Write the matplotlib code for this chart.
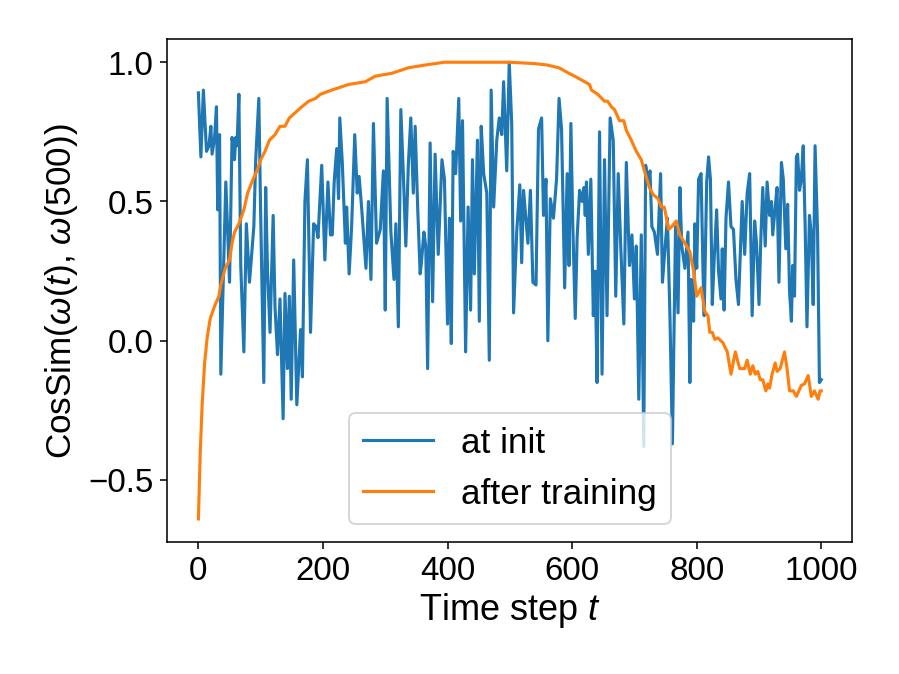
import matplotlib
matplotlib.use("Agg")
import matplotlib.pyplot as plt

plt.rcParams['font.family'] = ['Liberation Sans', 'DejaVu Sans']
plt.rcParams['mathtext.fontset'] = 'custom'
plt.rcParams['mathtext.rm'] = 'Liberation Sans'
plt.rcParams['mathtext.it'] = 'Liberation Sans:italic'
plt.rcParams['font.size'] = 17

# --- "at init" curve ---
init_t = [0, 4, 8, 13, 17, 20, 22, 26, 29, 31, 34, 36, 44, 50, 54, 58, 60, 62, 65, 68,
          73, 77, 82, 89, 92, 97, 100, 105, 108, 111, 115, 120, 123, 127, 131, 136, 139, 143, 146, 149,
          153, 158, 164, 167, 171, 175, 180, 185, 189, 192, 198, 203, 208, 212, 215, 218, 222, 225, 227, 231,
          236, 238, 242, 246, 251, 255, 258, 262, 269, 273, 277, 281, 286, 292, 297, 300, 303, 309, 314, 317,
          321, 325, 329, 333, 337, 341, 345, 348, 352, 356, 358, 362, 365, 368, 372, 376, 380, 385, 391, 395,
          400, 403, 406, 409, 413, 418, 421, 424, 429, 433, 437, 440, 443, 448, 451, 454, 458, 463, 467, 470,
          474, 479, 483, 487, 490, 495, 499, 503, 506, 511, 516, 519, 522, 526, 529, 533, 537, 542, 546, 551,
          554, 558, 561, 565, 570, 575, 579, 583, 588, 592, 595, 598, 601, 605, 608, 612, 616, 619, 621, 623,
          626, 630, 634, 637, 640, 644, 648, 652, 656, 661, 666, 670, 674, 678, 683, 687, 692, 696, 700, 703,
          707, 711, 715, 718, 722, 725, 728, 732, 737, 742, 745, 749, 753, 757, 761, 766, 770, 773, 776, 781,
          786, 789, 791, 795, 797, 800, 803, 807, 810, 812, 816, 819, 822, 825, 828, 832, 835, 839, 841, 844,
          847, 851, 855, 859, 863, 867, 873, 877, 881, 885, 889, 893, 896, 900, 903, 906, 910, 913, 917, 920,
          922, 926, 929, 932, 936, 939, 943, 946, 949, 952, 954, 957, 960, 962, 965, 968, 971, 974, 977, 981,
          984, 987, 990, 994, 997, 1000]
init_cos = [0.89, 0.66, 0.90, 0.68, 0.70, 0.77, 0.67, 0.73, 0.84, 0.47, 0.74, -0.12, 0.57, 0.21, 0.73, 0.65, 0.73, 0.70, 0.885, 0.27,
            -0.04, 0.42, 0.21, 0.41, 0.65, 0.87, 0.45, -0.15, 0.55, 0.25, 0.03, 0.45, 0.12, -0.05, 0.15, -0.28, 0.17, -0.10, 0.16, -0.21,
            0.29, -0.23, 0.04, -0.13, 0.50, 0.65, 0.03, 0.42, 0.41, 0.37, 0.63, 0.29, 0.57, 0.38, 0.38, 0.57, 0.69, 0.51, 0.80, 0.64,
            0.35, 0.48, 0.24, 0.41, 0.74, 0.53, 0.59, 0.48, 0.26, 0.50, 0.22, 0.78, 0.35, 0.40, 0.61, 0.11, 0.87, 0.39, 0.22, 0.42,
            0.05, 0.83, 0.60, 0.34, 0.63, 0.80, 0.53, 0.77, 0.48, 0.24, 0.28, 0.39, 0.34, -0.10, 0.71, 0.14, 0.67, 0.31, 0.65, 0.58,
            0.06, 0.44, -0.01, 0.68, 0.60, 0.87, 0.43, 0.79, -0.04, 0.48, 0.11, 0.65, 0.24, 0.72, 0.07, 0.77, 0.60, 0.53, -0.07, 0.90,
            0.48, 0.72, 0.80, 0.74, 0.93, 0.61, 1.00, 0.78, 0.10, 0.39, 0.56, 0.28, 0.54, 0.43, 0.35, 0.54, 0.21, 0.20, 0.76, 0.80,
            0.45, 0.58, 0.00, 0.51, 0.44, 0.58, 0.87, 0.76, 0.19, 0.60, 0.27, 0.78, 0.42, 0.08, 0.37, 0.54, 0.50, 0.55, 0.45, 0.57,
            0.31, 0.58, 0.09, 0.25, -0.15, 0.75, -0.12, 0.65, 0.09, 0.80, 0.72, 0.16, 0.60, 0.34, 0.06, 0.64, 0.27, 0.38, 0.15, 0.34,
            -0.21, 0.38, -0.38, 0.63, 0.57, 0.61, 0.41, 0.39, 0.31, 0.60, 0.21, 0.33, 0.44, 0.09, -0.37, 0.41, 0.10, 0.55, 0.34, 0.26,
            0.39, -0.15, 0.22, 0.07, 0.42, 0.26, 0.58, 0.60, 0.26, 0.09, 0.57, 0.66, 0.58, 0.13, 0.29, 0.47, 0.25, 0.15, 0.33, 0.11,
            0.44, 0.57, 0.41, 0.40, 0.22, 0.13, 0.50, 0.31, 0.53, 0.60, 0.09, 0.43, 0.35, 0.13, 0.37, 0.55, 0.34, 0.57, 0.45, 0.50,
            0.38, 0.48, 0.55, 0.21, 0.64, 0.58, 0.33, 0.49, 0.18, 0.07, 0.27, 0.16, 0.66, 0.67, 0.54, 0.58, 0.70, 0.42, 0.05, 0.45,
            0.38, 0.13, 0.70, 0.39, -0.15, -0.14]

# --- "after training" curve ---
train_t = [0, 3, 6, 10, 14, 19, 27, 33, 36, 43, 50, 54, 58, 65, 73, 79, 86, 94, 100, 107,
           114, 123, 131, 139, 146, 156, 166, 177, 188, 196, 214, 241, 268, 284, 310, 337, 364, 395, 450, 500,
           540, 560, 579, 595, 604, 620, 628, 631, 641, 652, 657, 663, 668, 676, 683, 687, 695, 703, 711, 716,
           724, 730, 738, 743, 748, 755, 760, 767, 773, 781, 789, 795, 800, 807, 813, 818, 821, 825, 829, 834,
           842, 849, 855, 862, 869, 877, 881, 886, 890, 894, 898, 902, 906, 911, 914, 917, 921, 926, 929, 934,
           941, 945, 949, 955, 960, 968, 973, 979, 984, 989, 995, 998, 1000]
train_cos = [-0.64, -0.40, -0.23, -0.08, 0.01, 0.08, 0.13, 0.16, 0.20, 0.26, 0.29, 0.35, 0.39, 0.42, 0.47, 0.53, 0.57, 0.61, 0.65, 0.68,
             0.72, 0.74, 0.77, 0.77, 0.80, 0.82, 0.84, 0.86, 0.87, 0.885, 0.90, 0.92, 0.93, 0.95, 0.96, 0.98, 0.99, 1.00, 1.00, 1.00,
             0.995, 0.99, 0.98, 0.96, 0.95, 0.93, 0.92, 0.90, 0.885, 0.86, 0.86, 0.84, 0.83, 0.79, 0.79, 0.755, 0.72, 0.68, 0.65, 0.61,
             0.55, 0.525, 0.51, 0.48, 0.48, 0.40, 0.41, 0.43, 0.38, 0.35, 0.32, 0.25, 0.16, 0.19, 0.105, 0.09, 0.03, 0.03, 0.005, 0.01,
             -0.007, -0.04, -0.12, -0.04, -0.10, -0.10, -0.07, -0.12, -0.09, -0.12, -0.11, -0.14, -0.14, -0.18, -0.155, -0.17, -0.12, -0.08, -0.11, -0.10,
             -0.04, -0.10, -0.18, -0.18, -0.20, -0.16, -0.155, -0.125, -0.20, -0.18, -0.21, -0.18, -0.18]

fig, ax = plt.subplots(figsize=(6.4, 4.8), dpi=140.5)
fig.subplots_adjust(left=0.186, right=0.948, bottom=0.196, top=0.941)

ax.plot(init_t, init_cos, color="#1f77b4", lw=1.6, label="at init")
ax.plot(train_t, train_cos, color="#ff7f0e", lw=1.6, label="after training")

ax.set_xlabel(r"Time step $t$", fontsize=18.5, labelpad=2)
ax.set_ylabel(r"CosSim($\omega(t)$, $\omega(500)$)", fontsize=18, labelpad=4)
ax.set_yticks([-0.5, 0.0, 0.5, 1.0])
ax.legend(loc="lower center", fontsize=18)

fig.savefig("out.png", dpi=140.5)
